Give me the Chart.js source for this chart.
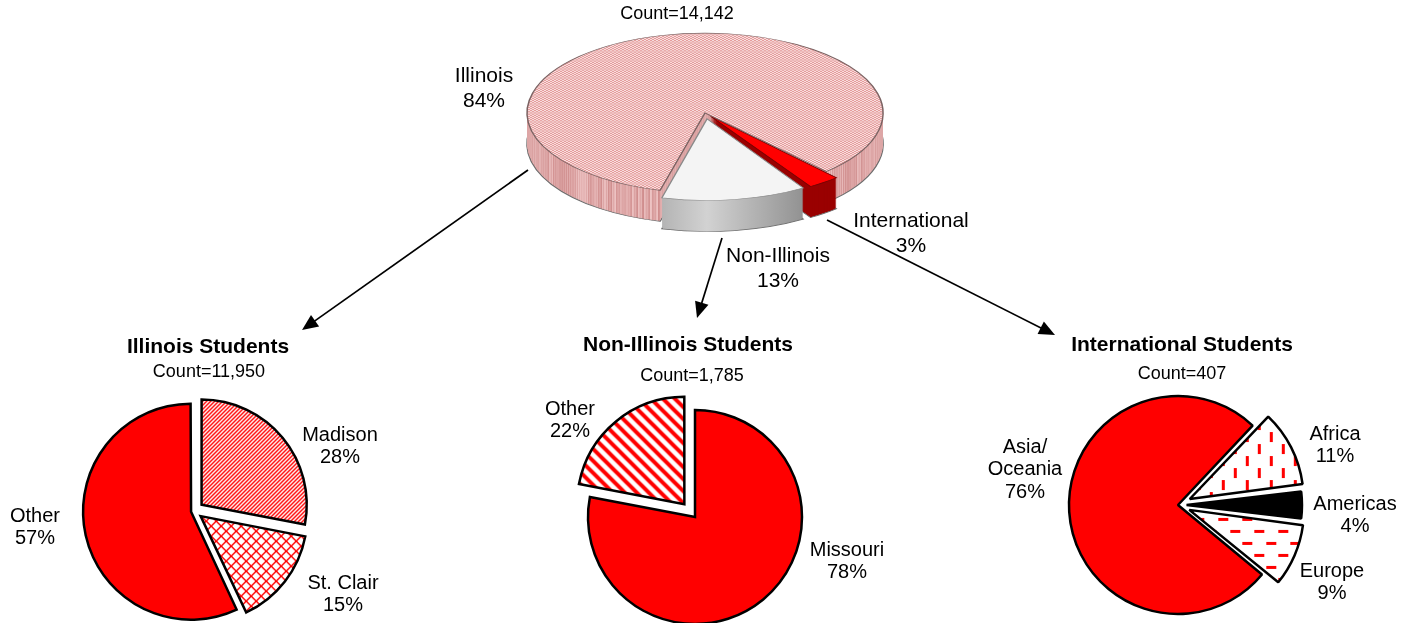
<!DOCTYPE html>
<html>
<head>
<meta charset="utf-8">
<script src="https://cdn.jsdelivr.net/npm/chart.js@4.4.1/dist/chart.umd.min.js"></script>
<style>
  html, body { margin: 0; padding: 0; background: #fff; }
  #stage { position: relative; width: 1412px; height: 623px; overflow: hidden; background: #fff;
           font-family: "Liberation Sans", Arial, sans-serif; color: #000; }
  #stage canvas, #stage svg { position: absolute; }
  .txt { position: absolute; width: 240px; text-align: center; white-space: nowrap; }
</style>
</head>
<body>
<div id="stage">
  <canvas id="overview" width="420" height="420"></canvas>
  <canvas id="illinois" width="280" height="280"></canvas>
  <canvas id="nonIllinois" width="280" height="280"></canvas>
  <canvas id="international" width="280" height="280"></canvas>
  <svg id="arrows" width="1412" height="623" style="left:0;top:0"></svg>
</div>
<script>
// ---- data ----
const overviewCategories = ['International', 'Non-Illinois', 'Illinois'];
const overviewShares = [3, 13, 84];
const overviewCount = '14,142';

const illinoisCategories = ['Madison', 'St. Clair', 'Other'];
const illinoisShares = [28, 15, 57];
const illinoisCount = '11,950';

const nonIllinoisCategories = ['Missouri', 'Other'];
const nonIllinoisShares = [78, 22];
const nonIllinoisCount = '1,785';

const internationalCategories = ['Asia/Oceania', 'Africa', 'Americas', 'Europe'];
const internationalShares = [76, 11, 4, 9];
const internationalCount = '407';

// ---- layout (label anchors: centre x, first baseline) ----
const overviewLabelAt = [[911, 228], [778, 263], [484, 83]];
const illinoisLabelAt = [[340, 442], [343, 590], [35, 523]];
const nonIllinoisLabelAt = [[847, 557], [570, 416]];
const internationalLabelAt = [[1025, 453], [1335, 440], [1355, 510], [1332, 577]];
const arrowPaths = [[528, 170, 302, 330], [722, 238, 697, 318], [827, 220, 1055, 335]];

const stage = document.getElementById('stage');
const RED = '#ff0000';

function tile(w, h, paint) {
  const c = document.createElement('canvas');
  c.width = w; c.height = h;
  const g = c.getContext('2d');
  paint(g, w, h);
  return g.createPattern(c, 'repeat');
}

// diagonal lines across a square tile; dir 1 = "\", -1 = "/"
function diagonals(g, s, dir) {
  g.beginPath();
  for (let k = -1; k <= 1; k++) {
    if (dir > 0) { g.moveTo(-2, -2 + k * s); g.lineTo(s + 2, s + 2 + k * s); }
    else { g.moveTo(-2, s + 2 + k * s); g.lineTo(s + 2, -2 + k * s); }
  }
  g.stroke();
}

// crisp pixel diagonals: cells where the test holds are painted
function pixels(s, test) {
  return tile(s, s, g => {
    g.fillStyle = '#fff'; g.fillRect(0, 0, s, s);
    g.fillStyle = RED;
    for (let y = 0; y < s; y++)
      for (let x = 0; x < s; x++)
        if (test(x, y)) g.fillRect(x, y, 1, 1);
  });
}

const madisonFill = pixels(4, (x, y) => ((x + y) % 4 === 0) || ((x + y) % 4 === 1));
const stClairFill = pixels(10, (x, y) => {
  const a = ((x - y) % 10 + 10) % 10, b = (x + y) % 10;
  return a === 0 || a === 1 || b === 0 || b === 9;
});
const wideStripes = tile(12, 12, (g, s) => {
  g.fillStyle = '#fff'; g.fillRect(0, 0, s, s);
  g.strokeStyle = RED; g.lineWidth = 4; diagonals(g, s, 1);
});
const vertDashes = tile(24, 24, g => {
  g.fillStyle = '#fff'; g.fillRect(0, 0, 24, 24);
  g.fillStyle = RED; g.fillRect(4, 1, 3, 10); g.fillRect(16, 13, 3, 10);
});
const horizDashes = tile(24, 24, g => {
  g.fillStyle = '#fff'; g.fillRect(0, 0, 24, 24);
  g.fillStyle = RED; g.fillRect(1, 4, 10, 3); g.fillRect(13, 16, 10, 3);
});
const pinkTop = tile(4, 4, (g, s) => {
  g.fillStyle = '#fadcdc'; g.fillRect(0, 0, s, s);
  g.strokeStyle = '#e09595'; g.lineWidth = 0.9; diagonals(g, s, 1); diagonals(g, s, -1);
});
const pinkSide = tile(4, 4, (g, s) => {
  g.fillStyle = '#efc6c6'; g.fillRect(0, 0, s, s);
  g.strokeStyle = '#cf8c8c'; g.lineWidth = 1; diagonals(g, s, 1); diagonals(g, s, -1);
});

// Chart.js moves an arc by offset/4*(2-sin(circ)); turn a wanted pull into an offset
function explode(d, share) {
  const circ = Math.min(Math.PI, share / 100 * 2 * Math.PI);
  return 4 * d / (2 - Math.sin(circ));
}

function caption(lines, cx, baseline, size, lh, bold) {
  const d = document.createElement('div');
  d.className = 'txt';
  d.style.fontSize = size + 'px';
  d.style.lineHeight = lh + 'px';
  if (bold) d.style.fontWeight = 'bold';
  d.style.left = (cx - 120) + 'px';
  d.style.top = (baseline - ((lh - 1.117 * size) / 2 + 0.905 * size)) + 'px';
  d.innerHTML = lines.join('<br>');
  stage.appendChild(d);
}

function sliceLabels(categories, shares, at, size, lh) {
  categories.forEach((c, i) => {
    const lines = c.replace('/', '/\n').split('\n').concat(shares[i] + '%');
    caption(lines, at[i][0], at[i][1], size, lh, false);
  });
}

function place(canvas, cx, cy) {
  canvas.style.left = (cx - canvas.width / 2) + 'px';
  canvas.style.top = (cy - canvas.height / 2) + 'px';
}

const quiet = { legend: { display: false }, tooltip: { enabled: false } };

function flatPie(id, cx, cy, radius, rotation, categories, shares, fills, pull, join) {
  const canvas = document.getElementById(id);
  place(canvas, cx, cy);
  return new Chart(canvas, {
    type: 'pie',
    data: {
      labels: categories,
      datasets: [{
        data: shares,
        backgroundColor: fills,
        borderColor: '#000',
        borderWidth: 2.5,
        borderJoinStyle: join,
        offset: shares.map((s, i) => explode(pull[i], s)),
        hoverOffset: 0
      }]
    },
    options: {
      responsive: false, animation: false, events: [],
      rotation: rotation, radius: radius,
      layout: { padding: 0 },
      plugins: quiet
    }
  });
}

// ---- tilted 3D overview pie ----
function makeTilt(cfg) {
  function squash(ctx, chart, dy) {
    const a = chart.chartArea;
    const cy = (a.top + a.bottom) / 2;
    ctx.translate(0, cy + dy);
    ctx.scale(1, cfg.squash);
    ctx.translate(0, -cy);
  }
  return {
    id: 'tilt',
    beforeDatasetsDraw(chart) {
      const ctx = chart.ctx;
      const arcs = chart.getDatasetMeta(0).data;
      cfg.order.forEach(i => {
        const el = arcs[i];
        const base = el.options;
        const side = cfg.sides[i];
        const fill = typeof side === 'function' ? side(el, ctx) : side;
        for (let dy = cfg.depth; dy >= 1; dy--) {
          ctx.save();
          squash(ctx, chart, dy);
          el.options = Object.assign({}, base, {
            backgroundColor: fill,
            borderColor: '#6e6e6e',
            borderWidth: dy === cfg.depth ? 1.6 : 0
          });
          el.draw(ctx);
          el.options = base;
          ctx.restore();
        }
      });
      ctx.save();
      squash(ctx, chart, 0);
    },
    afterDatasetsDraw(chart) {
      chart.ctx.restore();
    }
  };
}

const overviewCanvas = document.getElementById('overview');
place(overviewCanvas, 705, 113);
const overviewPull = [17, 17, 0];
new Chart(overviewCanvas, {
  type: 'pie',
  data: {
    labels: overviewCategories,
    datasets: [{
      data: overviewShares,
      backgroundColor: [RED, '#f4f4f4', pinkTop],
      borderColor: ['#7a0000', '#8a8a8a', '#7a6262'],
      borderWidth: 1.5,
      borderJoinStyle: 'miter',
      offset: overviewShares.map((s, i) => explode(overviewPull[i], s)),
      hoverOffset: 0
    }]
  },
  options: {
    responsive: false, animation: false, events: [],
    rotation: 137, radius: 178,
    layout: { padding: 0 },
    plugins: quiet
  },
  plugins: [makeTilt({
    depth: 31,
    squash: 0.449,
    order: [2, 0, 1],
    sides: [
      '#9a0000',
      (el, ctx) => {
        const x0 = el.x + el.outerRadius * Math.cos(el.endAngle);
        const x1 = el.x + el.outerRadius * Math.cos(el.startAngle) + 10;
        const g = ctx.createLinearGradient(x0, 0, x1, 0);
        g.addColorStop(0, '#b4b4b4');
        g.addColorStop(0.3, '#d2d2d2');
        g.addColorStop(1, '#8c8c8c');
        return g;
      },
      pinkSide
    ]
  })]
});

flatPie('illinois', 194, 511, 105, 0, illinoisCategories, illinoisShares,
  [madisonFill, stClairFill, RED], [10, 10, 6], 'miter');
flatPie('nonIllinois', 695, 517, 107, 0, nonIllinoisCategories, nonIllinoisShares,
  [RED, wideStripes], [0, 17], 'miter');
flatPie('international', 1178, 505, 109, 129.6, internationalCategories, internationalShares,
  [RED, vertDashes, '#000', horizDashes], [0, 18, 15, 18], 'bevel');

// ---- arrows ----
const NS = 'http://www.w3.org/2000/svg';
const svg = document.getElementById('arrows');
arrowPaths.forEach(([x1, y1, x2, y2]) => {
  const len = Math.hypot(x2 - x1, y2 - y1);
  const ux = (x2 - x1) / len, uy = (y2 - y1) / len;
  const hl = 16, hw = 7;
  const bx = x2 - ux * hl, by = y2 - uy * hl;
  const line = document.createElementNS(NS, 'line');
  line.setAttribute('x1', x1); line.setAttribute('y1', y1);
  line.setAttribute('x2', bx + ux * 2); line.setAttribute('y2', by + uy * 2);
  line.setAttribute('stroke', '#000'); line.setAttribute('stroke-width', '1.7');
  svg.appendChild(line);
  const tri = document.createElementNS(NS, 'polygon');
  tri.setAttribute('points', `${x2},${y2} ${bx - uy * hw},${by + ux * hw} ${bx + uy * hw},${by - ux * hw}`);
  tri.setAttribute('fill', '#000');
  svg.appendChild(tri);
});

// ---- text ----
caption(['Count=' + overviewCount], 677, 20, 18, 21, false);
sliceLabels(overviewCategories, overviewShares, overviewLabelAt, 21, 24.5);

caption(['Illinois Students'], 208, 353, 21, 24, true);
caption(['Count=' + illinoisCount], 209, 378, 18, 21, false);
sliceLabels(illinoisCategories, illinoisShares, illinoisLabelAt, 20, 21.5);

caption(['Non-Illinois Students'], 688, 351, 21, 24, true);
caption(['Count=' + nonIllinoisCount], 692, 382, 18, 21, false);
sliceLabels(nonIllinoisCategories, nonIllinoisShares, nonIllinoisLabelAt, 20, 21.5);

caption(['International Students'], 1182, 351, 21, 24, true);
caption(['Count=' + internationalCount], 1182, 380, 18, 21, false);
sliceLabels(internationalCategories, internationalShares, internationalLabelAt, 20, 22.5);
</script>
</body>
</html>
